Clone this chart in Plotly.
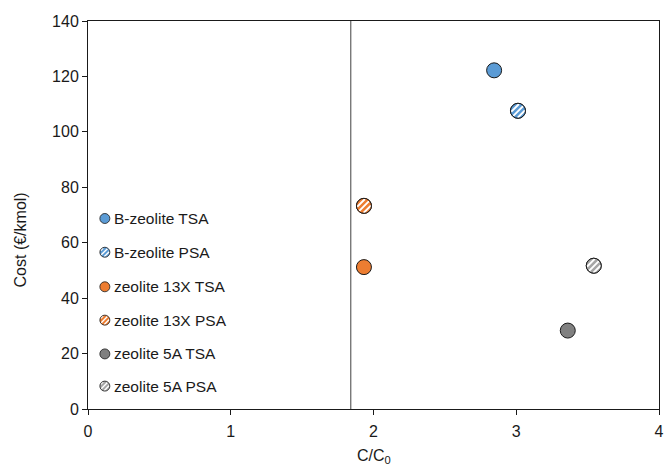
import numpy as np
import plotly.graph_objects as go

# Separation cost for each adsorbent / regeneration mode
names = ["B-zeolite TSA", "B-zeolite PSA", "zeolite 13X TSA",
         "zeolite 13X PSA", "zeolite 5A TSA", "zeolite 5A PSA"]
conc_ratio = [2.845, 3.012, 1.933, 1.933, 3.361, 3.543]
cost = [122.2, 107.6, 51.2, 73.3, 28.3, 51.7]
hatched = [False, True, False, True, False, True]
colors = ["#5B9BD5", "#5B9BD5", "#ED7D31", "#ED7D31", "#808080", "#A6A6A6"]

# Reference concentration ratio (vertical marker line)
ref_ratio = 1.841

x_ticks = [0, 1, 2, 3, 4]
y_ticks = [0, 20, 40, 60, 80, 100, 120, 140]

FONT = "Liberation Sans, Arial, sans-serif"
TEXT = "#1a1a1a"
R_PT = 7.5      # marker radius in px
R_LEG = 5.0     # legend marker radius in px


def stripe_path(r, period, inner=0.6):
    """Diagonal '/' chords clipped to a circle of radius r (pixel units)."""
    segs = []
    u = np.array([1.0, 1.0]) / np.sqrt(2)
    n = np.array([-1.0, 1.0]) / np.sqrt(2)
    rr = r - inner
    d = -rr + period / 2
    while d < rr:
        half = np.sqrt(max(rr * rr - d * d, 0))
        p1 = d * n - half * u
        p2 = d * n + half * u
        segs.append(f"M{p1[0]:.2f},{p1[1]:.2f} L{p2[0]:.2f},{p2[1]:.2f}")
        d += period
    return " ".join(segs)


def hatched_marker(xa, ya, r, color, xref, yref, period, lw):
    return [
        dict(type="circle", xref=xref, yref=yref, xsizemode="pixel",
             ysizemode="pixel", xanchor=xa, yanchor=ya, x0=-r, x1=r,
             y0=-r, y1=r, fillcolor=color, line=dict(width=0), layer="above"),
        dict(type="path", xref=xref, yref=yref, xsizemode="pixel",
             ysizemode="pixel", xanchor=xa, yanchor=ya,
             path=stripe_path(r, period), line=dict(color="white", width=lw),
             layer="above"),
    ]


def outline(xa, ya, r, xref, yref, fill=None, lw=1):
    return dict(type="circle", xref=xref, yref=yref, xsizemode="pixel",
                ysizemode="pixel", xanchor=xa, yanchor=ya, x0=-r, x1=r,
                y0=-r, y1=r, fillcolor=fill if fill else "rgba(0,0,0,0)",
                line=dict(color="#1a1a1a", width=lw), layer="above")


fig = go.Figure()

for nm, xv, yv, c in zip(names, conc_ratio, cost, colors):
    fig.add_trace(go.Scatter(
        x=[xv], y=[yv], mode="markers", name=nm, showlegend=False,
        marker=dict(size=2 * R_PT, color=c, line=dict(color="#1a1a1a", width=1)),
    ))

shapes = [dict(type="line", xref="x", yref="paper", x0=ref_ratio, x1=ref_ratio,
               y0=0, y1=1, line=dict(color="#404040", width=1), layer="below")]

# Stripe overlay on the PSA points
for xv, yv, c, h in zip(conc_ratio, cost, colors, hatched):
    if h:
        shapes += hatched_marker(xv, yv, R_PT, c, "x", "y", 4.4, 1.9)
        shapes.append(outline(xv, yv, R_PT, "x", "y"))

# Legend drawn inside the plot area
leg_x = 0.0295
leg_text_x = 0.0425
leg_rows = [0.491, 0.404, 0.315, 0.229, 0.142, 0.059]
annotations = []
for nm, c, h, ly in zip(names, colors, hatched, leg_rows):
    if h:
        shapes += hatched_marker(leg_x, ly, R_LEG, c, "paper", "paper", 3.4, 1.4)
        shapes.append(outline(leg_x, ly, R_LEG, "paper", "paper", lw=0.8))
    else:
        shapes.append(outline(leg_x, ly, R_LEG, "paper", "paper", fill=c, lw=0.8))
    annotations.append(dict(x=leg_text_x, y=ly, xref="paper", yref="paper",
                            text=nm, showarrow=False, xanchor="left",
                            yanchor="middle",
                            font=dict(family=FONT, size=15.5, color=TEXT)))

# Axis titles
annotations.append(dict(x=-0.118, y=0.436, xref="paper", yref="paper",
                        text="Cost (€/kmol)", textangle=-90, showarrow=False,
                        xanchor="center", yanchor="middle",
                        font=dict(family=FONT, size=16, color=TEXT)))
annotations.append(dict(x=0.5, y=-0.123, xref="paper", yref="paper",
                        text="C/C<sub>0</sub>", showarrow=False,
                        xanchor="center", yanchor="middle",
                        font=dict(family=FONT, size=16, color=TEXT)))

axis_common = dict(showgrid=False, zeroline=False, showline=True,
                   linecolor="#1a1a1a", linewidth=1, mirror=True,
                   ticks="outside", ticklen=5, tickcolor="#1a1a1a",
                   tickfont=dict(family=FONT, size=16, color=TEXT))

fig.update_layout(
    width=670, height=467,
    margin=dict(l=88, r=6, t=21, b=58),
    paper_bgcolor="white", plot_bgcolor="white",
    xaxis=dict(range=[0, 4], tickvals=x_ticks, ticklabelstandoff=3, **axis_common),
    yaxis=dict(range=[0, 140], tickvals=y_ticks, **axis_common),
    shapes=shapes,
    annotations=annotations,
)

fig.write_html("out.html")
